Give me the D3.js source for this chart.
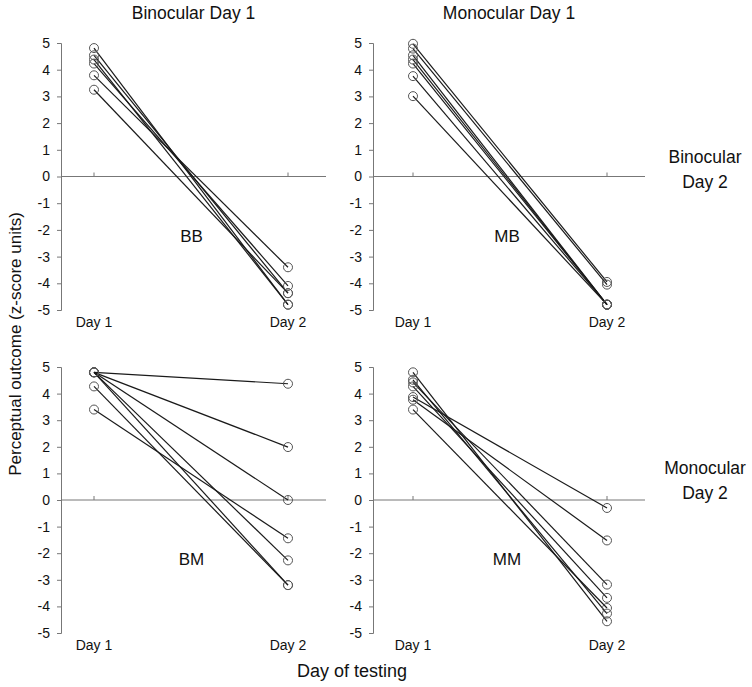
<!DOCTYPE html>
<html><head><meta charset="utf-8">
<script src="https://cdn.jsdelivr.net/npm/d3@7"></script>
<style>body{margin:0;background:#fff}text{font-family:"Liberation Sans",Arial,sans-serif;fill:#111}</style>
</head><body><svg id="c" width="752" height="687"></svg>
<script>
const days = ["Day 1", "Day 2"];
const yTicks = [5,4,3,2,1,0,-1,-2,-3,-4,-5];
const colTitles = ["Binocular Day 1", "Monocular Day 1"];
const rowTitles = [["Binocular","Day 2"],["Monocular","Day 2"]];
const panelNames = ["BB","MB","BM","MM"];
// [Day1, Day2] per participant line
const bbDay1 = [4.81, 4.54, 4.38, 4.23, 3.79, 3.25];
const bbDay2 = [-4.8, -4.37, -4.8, -4.1, -3.4, -4.37];
const mbDay1 = [4.97, 4.79, 4.54, 4.38, 4.23, 3.76, 3.01];
const mbDay2 = [-3.95, -4.05, -4.8, -4.8, -4.8, -4.8, -4.8];
const bmDay1 = [4.8, 4.8, 4.8, 4.8, 4.8, 4.27, 3.4];
const bmDay2 = [4.37, 1.99, 0, -2.27, -3.2, -3.2, -1.44];
const mmDay1 = [4.8, 4.52, 4.42, 4.27, 3.87, 3.77, 3.4];
const mmDay2 = [-4.56, -4.27, -3.18, -3.68, -0.3, -1.52, -4.06];

const panelData = [[bbDay1,bbDay2],[mbDay1,mbDay2],[bmDay1,bmDay2],[mmDay1,mmDay2]];
const colAxisX = [61, 373], colEnd = [326, 645], colDayOff = [[33,227],[40,234]];
const rowY = [[310,43],[633,367]];

const svg = d3.select("#c");
const axisGray = "#777";

panelData.forEach((pd, i) => {
  const col = i % 2, row = Math.floor(i / 2);
  const ax = colAxisX[col];
  const y = d3.scaleLinear().domain([-5,5]).range(rowY[row]);
  const x = d3.scalePoint().domain(days).range([ax + colDayOff[col][0], ax + colDayOff[col][1]]);
  const g = svg.append("g");
  // y axis
  const yAxis = d3.axisLeft(y).tickValues(yTicks).tickSize(4).tickPadding(7).tickFormat(d => String(d));
  const ga = g.append("g").attr("transform", `translate(${ax},0)`).call(yAxis);
  ga.select(".domain").attr("stroke", axisGray);
  ga.selectAll(".tick line").attr("stroke", axisGray);
  ga.selectAll(".tick text").attr("font-size", 14).attr("font-family", "Liberation Sans, Arial, sans-serif").attr("fill", "#111");
  // zero line
  g.append("line").attr("x1", ax).attr("x2", colEnd[col]).attr("y1", y(0)).attr("y2", y(0)).attr("stroke", axisGray).attr("stroke-width", 1);
  // day ticks
  days.forEach(d => {
    g.append("line").attr("x1", x(d)).attr("x2", x(d)).attr("y1", y(0)).attr("y2", y(0) - 4).attr("stroke", axisGray);
    g.append("text").attr("x", x(d)).attr("y", y(-5) + 17).attr("text-anchor", "middle").attr("font-size", 14).text(d);
  });
  // lines
  const pairs = pd[0].map((v, k) => [v, pd[1][k]]);
  g.selectAll("line.p").data(pairs).join("line").attr("class", "p")
    .attr("x1", x(days[0])).attr("x2", x(days[1]))
    .attr("y1", d => y(d[0])).attr("y2", d => y(d[1]))
    .attr("stroke", "#1a1a1a").attr("stroke-width", 1.2);
  const pts = [];
  pairs.forEach(p => { pts.push([days[0], p[0]]); pts.push([days[1], p[1]]); });
  g.selectAll("circle").data(pts).join("circle")
    .attr("cx", d => x(d[0])).attr("cy", d => y(d[1])).attr("r", 4.5)
    .attr("fill", "none").attr("stroke", "#555").attr("stroke-width", 1);
  // panel label
  g.append("text").attr("x", (ax + colEnd[col]) / 2 - 2).attr("y", y(-2.45))
    .attr("text-anchor", "middle").attr("font-size", 17).text(panelNames[i]);
});

colTitles.forEach((t, c) => {
  svg.append("text").attr("x", (colAxisX[c] + colEnd[c]) / 2).attr("y", 19)
    .attr("text-anchor", "middle").attr("font-size", 17.5).text(t);
});
rowTitles.forEach((t, r) => {
  const yc = r === 0 ? 157 : 468;
  t.forEach((s, k) => svg.append("text").attr("x", 705).attr("y", yc + 6 + k * 25)
    .attr("text-anchor", "middle").attr("font-size", 17.5).text(s));
});
svg.append("text").attr("transform", "translate(21,344) rotate(-90)")
  .attr("text-anchor", "middle").attr("font-size", 17).text("Perceptual outcome (z-score units)");
svg.append("text").attr("x", 352).attr("y", 677).attr("text-anchor", "middle")
  .attr("font-size", 18).text("Day of testing");
</script></body></html>
